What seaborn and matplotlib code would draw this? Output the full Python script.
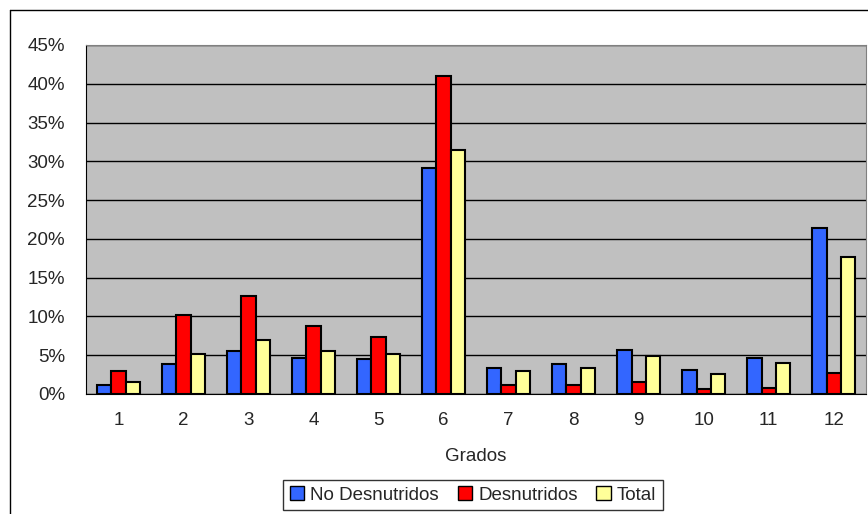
import pandas as pd
import seaborn as sns
import matplotlib.pyplot as plt
from matplotlib.lines import Line2D
from matplotlib.ticker import FixedLocator, PercentFormatter

grados = [str(g) for g in range(1, 13)]
no_desnutridos = [1.2, 3.9, 5.5, 4.7, 4.5, 29.2, 3.4, 3.9, 5.7, 3.1, 4.7, 21.4]
desnutridos = [3.0, 10.2, 12.6, 8.8, 7.4, 41.0, 1.2, 1.2, 1.6, 0.6, 0.8, 2.7]
total = [1.5, 5.1, 6.9, 5.5, 5.1, 31.5, 3.0, 3.4, 4.9, 2.6, 4.0, 17.6]
series = ["No Desnutridos", "Desnutridos", "Total"]
colors = ["#3366FF", "#FF0000", "#FFFF99"]

df = pd.DataFrame({
    "Grado": grados * 3,
    "Serie": [s for s in series for _ in grados],
    "Valor": no_desnutridos + desnutridos + total,
})

sns.set_style("white")
plt.rcParams["font.family"] = ["Liberation Sans", "DejaVu Sans"]
fs = 13.5

fig = plt.figure(figsize=(8.68, 5.14), dpi=100)
ax = fig.add_axes([0.099, 0.2335, 0.899, 0.679])
ax.set_facecolor("#C0C0C0")

sns.barplot(data=df, x="Grado", y="Valor", hue="Serie", order=grados,
            hue_order=series, palette=colors, width=0.66, saturation=1,
            edgecolor="black", linewidth=1.5, ax=ax, legend=False, zorder=3)

ax.set_ylim(0, 45)
ax.set_xlim(-0.5, 11.5)
ax.set_yticks(range(0, 50, 5))
ax.yaxis.set_major_formatter(PercentFormatter(decimals=0))
ax.grid(axis="y", color="black", linewidth=1, zorder=0)
ax.set_axisbelow(True)

ax.tick_params(axis="x", which="major", length=0, pad=13, labelsize=fs)
ax.xaxis.set_minor_locator(FixedLocator([i - 0.5 for i in range(13)]))
ax.tick_params(axis="x", which="minor", length=5, color="black", direction="out")
ax.tick_params(axis="y", length=6, color="black", direction="out", labelsize=fs, pad=9)

for side in ["top", "right"]:
    ax.spines[side].set_color("#808080")
for side in ["left", "bottom"]:
    ax.spines[side].set_color("black")

ax.set_xlabel("Grados", fontsize=fs, labelpad=14)
ax.set_ylabel("")

# outer chart border
fig.add_artist(Line2D([0.0115, 0.0115], [0, 0.9805], color="black", lw=1))
fig.add_artist(Line2D([0.0115, 1.0], [0.9805, 0.9805], color="black", lw=1))

handles = [plt.Rectangle((0, 0), 1, 1, facecolor=c, edgecolor="black", lw=1)
           for c in colors]
leg = fig.legend(handles, series, loc="upper center", bbox_to_anchor=(0.545, 0.085),
                 ncol=3, frameon=True, fancybox=False, fontsize=fs,
                 handlelength=0.75, handleheight=0.75, handletextpad=0.35,
                 columnspacing=1.0, borderpad=0.35)
leg.get_frame().set_edgecolor("black")
leg.get_frame().set_linewidth(1)

fig.savefig("out.png", dpi=100)
